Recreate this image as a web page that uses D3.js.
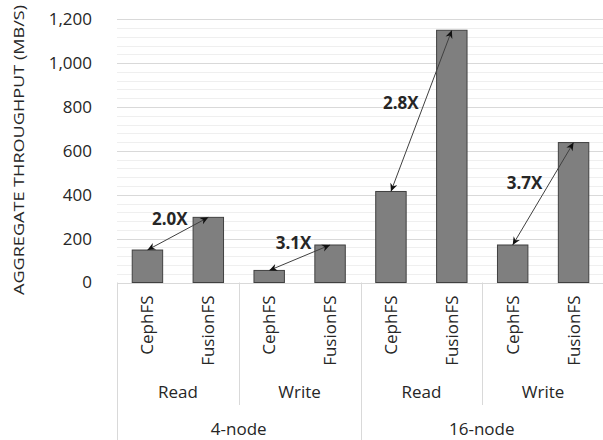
<!DOCTYPE html>
<html>
<head>
<meta charset="utf-8">
<script src="https://cdn.jsdelivr.net/npm/d3@7"></script>
<style>
    body { margin: 0; background: white; }
    text { font-family: "Open Sans", sans-serif; fill: #262626; }
</style>
</head>
<body>
<div id="chart"></div>
<script>
// data
const clusters = ["4-node", "16-node"];
const workloads = ["Read", "Write"];
const systems = ["CephFS", "FusionFS"];
// order: 4-node Read, 4-node Write, 16-node Read, 16-node Write
const cephValues = [148, 55, 415, 171];
const fusionValues = [297, 171, 1150, 638];
const ratioLabels = ["2.0X", "3.1X", "2.8X", "3.7X"];
const yTicks = [0, 200, 400, 600, 800, 1000, 1200];
const yTitle = "AGGREGATE THROUGHPUT (MB/S)";

const W = 603, H = 440;
const plotLeft = 117, plotRight = 604, plotTop = 19.3, plotBase = 282.5;

// flat rows, one per bar
let rows = [];
let pairs = [];
let k = 0;
clusters.forEach((c, ci) => {
    workloads.forEach((w, wi) => {
        const i = ci * workloads.length + wi;
        const pair = {cluster: c, workload: w, label: ratioLabels[i], bars: []};
        systems.forEach((s, si) => {
            const v = si === 0 ? cephValues[i] : fusionValues[i];
            const row = {key: c + "|" + w + "|" + s, cluster: c, workload: w, system: s, value: v, idx: k++};
            rows.push(row);
            pair.bars.push(row);
        });
        pairs.push(pair);
    });
});

const svg = d3.select("#chart")
    .append("svg")
    .attr("width", W)
    .attr("height", H);

const x = d3.scaleBand()
    .domain(rows.map(d => d.key))
    .range([plotLeft, plotRight])
    .paddingInner(0.5)
    .paddingOuter(0.25);
const step = x.step();
const slotEdge = i => plotLeft + i * step;

const y = d3.scaleLinear()
    .domain([0, 1200])
    .range([plotBase, plotTop]);

// minor gridlines every 40
const minor = d3.range(40, 1201, 40).filter(v => v % 200 !== 0);
svg.append("g")
    .selectAll("line")
    .data(minor)
    .join("line")
    .attr("x1", plotLeft).attr("x2", plotRight)
    .attr("y1", d => Math.round(y(d)) + 0.5)
    .attr("y2", d => Math.round(y(d)) + 0.5)
    .attr("stroke", "#efefef");

// major gridlines
svg.append("g")
    .selectAll("line")
    .data(yTicks)
    .join("line")
    .attr("x1", plotLeft).attr("x2", plotRight)
    .attr("y1", d => Math.round(y(d)) + 0.5)
    .attr("y2", d => Math.round(y(d)) + 0.5)
    .attr("stroke", "#d9d9d9");

// y axis labels
const yAxis = svg.append("g")
    .attr("transform", "translate(" + (plotLeft - 25) + ",0)")
    .call(d3.axisLeft(y).tickValues(yTicks).tickSize(0).tickPadding(0).tickFormat(d3.format(",")));
yAxis.select(".domain").remove();
yAxis.selectAll("text")
    .style("font-family", "'Open Sans', sans-serif")
    .style("font-size", "17px")
    .attr("fill", "#262626");

// y title
svg.append("text")
    .attr("transform", "translate(24,150) rotate(-90)")
    .attr("text-anchor", "middle")
    .attr("textLength", 290)
    .attr("lengthAdjust", "spacingAndGlyphs")
    .style("font-size", "15px")
    .text(yTitle);

// bars
svg.append("g")
    .selectAll("rect")
    .data(rows)
    .join("rect")
    .attr("x", d => x(d.key))
    .attr("y", d => y(d.value))
    .attr("width", x.bandwidth())
    .attr("height", d => y(0) - y(d.value))
    .attr("fill", "#7f7f7f")
    .attr("stroke", "#404040")
    .attr("stroke-width", 1);

// category axis separators
const sep = svg.append("g").attr("stroke", "#d9d9d9").attr("stroke-width", 1);
const perCluster = workloads.length * systems.length;
d3.range(0, rows.length + 1, systems.length).forEach(i => {
    const full = i % perCluster === 0;
    sep.append("line")
        .attr("x1", Math.round(slotEdge(i)) + 0.5)
        .attr("x2", Math.round(slotEdge(i)) + 0.5)
        .attr("y1", plotBase)
        .attr("y2", full ? H : 405);
});

// system labels (rotated)
svg.append("g")
    .selectAll("text")
    .data(rows)
    .join("text")
    .attr("transform", d => "translate(" + (x(d.key) + x.bandwidth() / 2) + ",295.5) rotate(-90)")
    .attr("text-anchor", "end")
    .attr("dy", "0.35em")
    .style("font-size", "17px")
    .text(d => d.system);

// workload labels
svg.append("g")
    .selectAll("text")
    .data(pairs)
    .join("text")
    .attr("x", (d, i) => (slotEdge(i * 2) + slotEdge(i * 2 + 2)) / 2)
    .attr("y", 392)
    .attr("dy", "0.35em")
    .attr("text-anchor", "middle")
    .style("font-size", "17px")
    .text(d => d.workload);

// cluster labels
svg.append("g")
    .selectAll("text")
    .data(clusters)
    .join("text")
    .attr("x", (d, i) => (slotEdge(i * perCluster) + Math.min(slotEdge((i + 1) * perCluster), W)) / 2)
    .attr("y", 435)
    .attr("text-anchor", "middle")
    .style("font-size", "17px")
    .text(d => d);

// arrows
svg.append("defs").append("marker")
    .attr("id", "head")
    .attr("viewBox", "0 0 10 10")
    .attr("refX", 10)
    .attr("refY", 5)
    .attr("markerWidth", 9)
    .attr("markerHeight", 8)
    .attr("markerUnits", "userSpaceOnUse")
    .attr("orient", "auto-start-reverse")
    .append("path")
    .attr("d", "M0,0.5 L10,5 L0,9.5 L3,5 Z")
    .attr("fill", "#111");

const ends = pairs.map(p => {
    const a = p.bars[0], b = p.bars[1];
    return {
        label: p.label,
        x1: x(a.key) + x.bandwidth() / 2, y1: y(a.value),
        x2: x(b.key) + x.bandwidth() / 2, y2: y(b.value)
    };
});

svg.append("g")
    .selectAll("line")
    .data(ends)
    .join("line")
    .attr("x1", d => d.x1).attr("y1", d => d.y1)
    .attr("x2", d => d.x2).attr("y2", d => d.y2)
    .attr("stroke", "#404040")
    .attr("stroke-width", 1)
    .attr("marker-start", "url(#head)")
    .attr("marker-end", "url(#head)");

// ratio labels, offset to the upper left of each arrow
const halfW = 17.5, halfH = 6, gap = 3.5;
svg.append("g")
    .selectAll("text")
    .data(ends)
    .join("text")
    .each(function (d) {
        const dx = d.x2 - d.x1, dy = d.y2 - d.y1;
        const len = Math.hypot(dx, dy);
        const nx = dy / len, ny = -dx / len;
        const dist = Math.abs(nx) * halfW + Math.abs(ny) * halfH + gap;
        const mx = (d.x1 + d.x2) / 2, my = (d.y1 + d.y2) / 2;
        d3.select(this)
            .attr("x", mx + nx * dist)
            .attr("y", my + ny * dist);
    })
    .attr("dy", "0.35em")
    .attr("text-anchor", "middle")
    .style("font-size", "17px")
    .style("font-weight", "bold")
    .attr("fill", "#111")
    .text(d => d.label);
</script>
</body>
</html>
